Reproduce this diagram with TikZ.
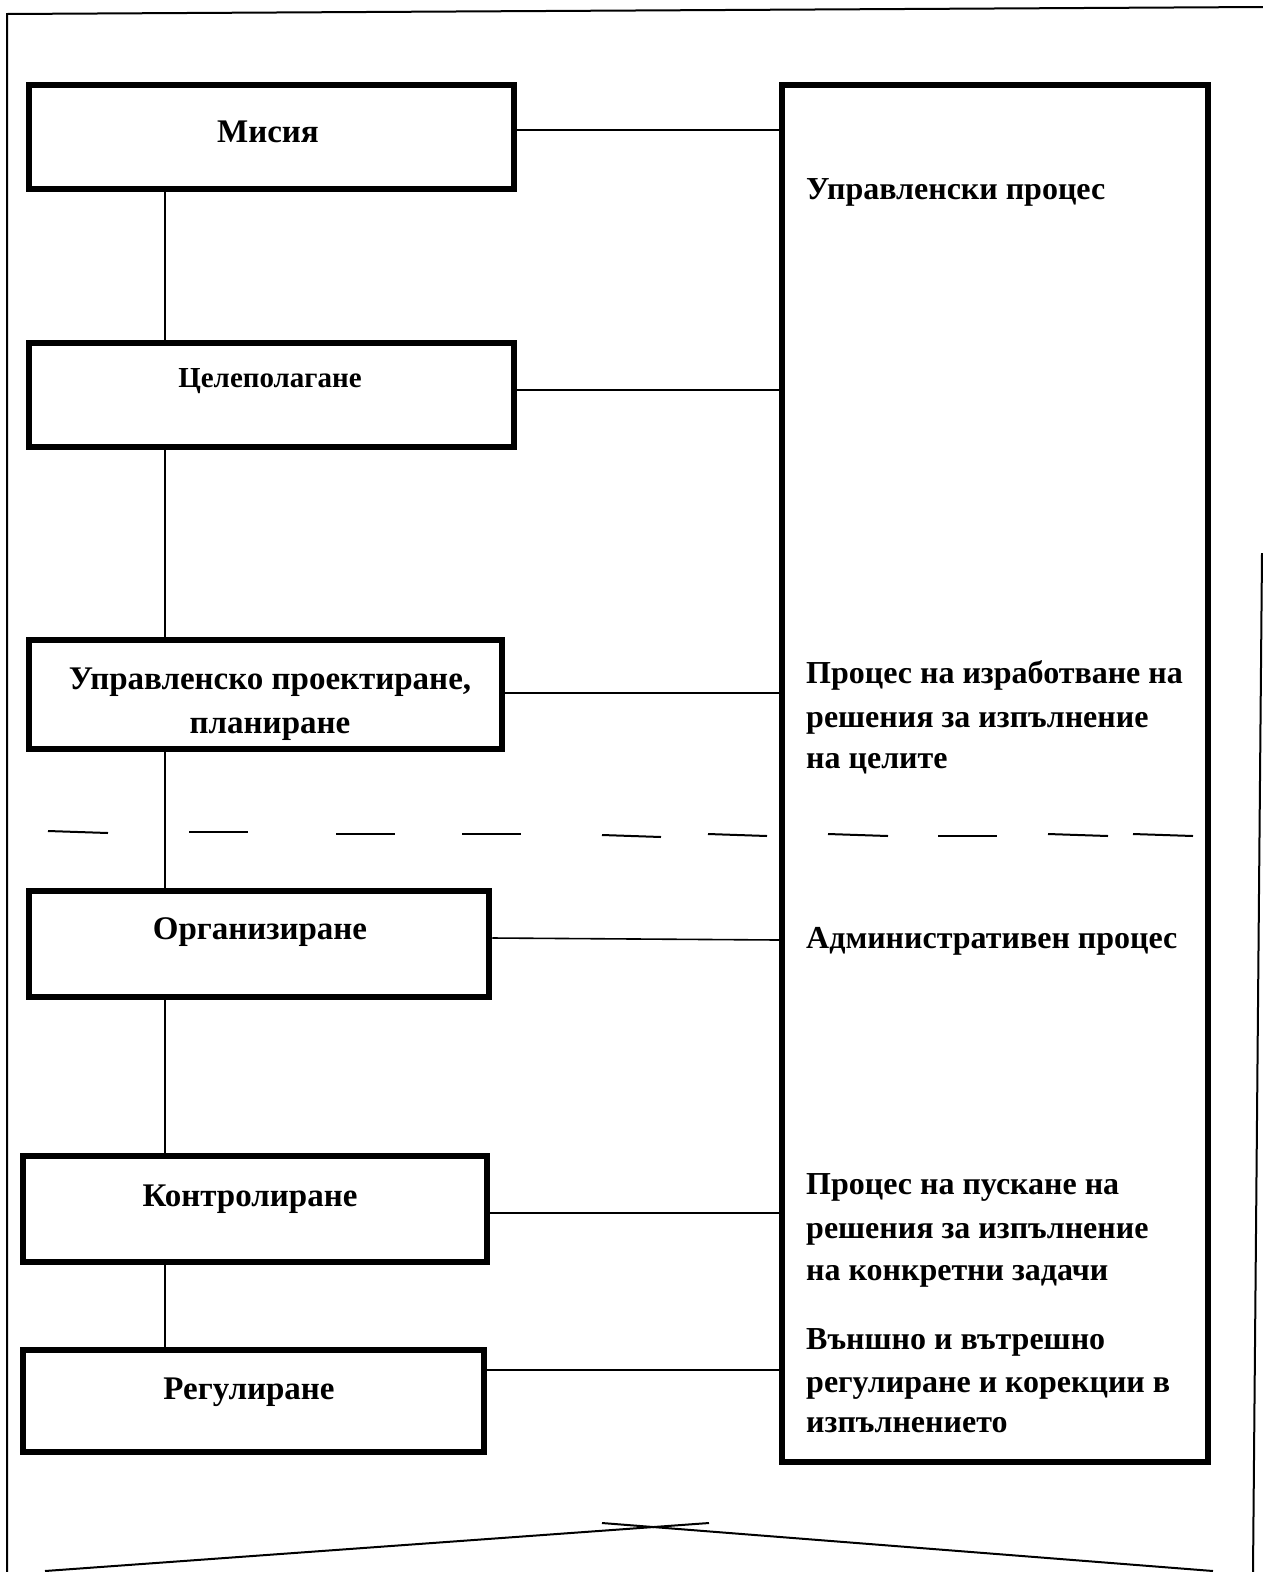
\documentclass[tikz,border=0pt]{standalone}
\usepackage{fontspec}
\setmainfont{Liberation Serif}
\begin{document}
\begin{tikzpicture}[x=1pt,y=-1pt,
  box/.style={draw, line width=6.5pt, inner sep=0pt},
  conn/.style={line width=1.6pt},
  frameline/.style={line width=2pt},
  dashseg/.style={line width=2pt},
  lbl/.style={font=\bfseries\fontsize{33}{38}\selectfont, inner sep=0pt, anchor=base},
  lsmall/.style={font=\bfseries\fontsize{29}{34}\selectfont, inner sep=0pt, anchor=base},
  rl/.style={font=\bfseries\fontsize{32}{37}\selectfont, inner sep=0pt, anchor=base west}]
\useasboundingbox (0,0) rectangle (1263,1572);

% outer frame
\draw[frameline] (7,1572) -- (7,14) -- (1263,7);
\draw[frameline] (1262,553) -- (1253,1572);
\draw[frameline] (45,1571) -- (709,1523);
\draw[frameline] (602,1523) -- (1213,1571);

% dashed separator
\foreach \xa/\ya/\xb/\yb in {48/831/108/833, 189/832/248/832, 336/834/395/834, 462/834/521/834, 602/835/661/837, 708/834/767/836, 828/834/888/836, 938/836/997/836, 1048/834/1108/836, 1133/834/1193/836}
  \draw[dashseg] (\xa,\ya) -- (\xb,\yb);

% left boxes
\node[box, minimum width=485pt, minimum height=104pt] (mis) at (271.5,137) {};
\node[box, minimum width=485pt, minimum height=104pt] (cel) at (271.5,395) {};
\node[box, minimum width=473pt, minimum height=109pt] (upr) at (265.5,694.5) {};
\node[box, minimum width=460pt, minimum height=106pt] (org) at (259,944) {};
\node[box, minimum width=464pt, minimum height=106pt] (kon) at (255,1209) {};
\node[box, minimum width=461pt, minimum height=102pt] (reg) at (253.5,1401) {};

% right box
\node[box, minimum width=426pt, minimum height=1377pt] (R) at (995,773.5) {};

% left texts
\node[lbl] (tmis) at (268,142) {Мисия};
\node[lsmall] (tcel) at (270,387) {Целеполагане};
\node[lbl] (tupr1) at (270,689) {Управленско проектиране,};
\node[lbl] (tupr2) at (270,733) {планиране};
\node[lbl] (torg) at (260,939) {Организиране};
\node[lbl] (tkon) at (250,1206) {Контролиране};
\node[lbl] (treg) at (249,1399) {Регулиране};

% right texts
\node[rl] (r1) at (806,199) {Управленски процес};
\node[rl] (r2a) at (806,683) {Процес на изработване на};
\node[rl] (r2b) at (806,727) {решения за изпълнение};
\node[rl] (r2c) at (806,768) {на целите};
\node[rl] (r3) at (806,948) {Административен процес};
\node[rl] (r4a) at (806,1194) {Процес на пускане на};
\node[rl] (r4b) at (806,1238) {решения за изпълнение};
\node[rl] (r4c) at (806,1280) {на конкретни задачи};
\node[rl] (r5a) at (806,1349) {Външно и вътрешно};
\node[rl] (r5b) at (806,1392) {регулиране и корекции в};
\node[rl] (r5c) at (806,1432) {изпълнението};

% horizontal connectors
\draw[conn] (mis.east |- 0,130) -- (R.west |- 0,130);
\draw[conn] (cel.east |- 0,390) -- (R.west |- 0,390);
\draw[conn] (upr.east |- 0,693) -- (R.west |- 0,693);
\draw[conn] (org.east |- 0,938) -- (R.west |- 0,940);
\draw[conn] (kon.east |- 0,1213) -- (R.west |- 0,1213);
\draw[conn] (reg.east |- 0,1370) -- (R.west |- 0,1370);

% vertical connectors
\draw[conn] (mis.south -| 165,0) -- (cel.north -| 165,0);
\draw[conn] (cel.south -| 165,0) -- (upr.north -| 165,0);
\draw[conn] (upr.south -| 165,0) -- (org.north -| 165,0);
\draw[conn] (org.south -| 165,0) -- (kon.north -| 165,0);
\draw[conn] (kon.south -| 165,0) -- (reg.north -| 165,0);
\end{tikzpicture}
\end{document}
